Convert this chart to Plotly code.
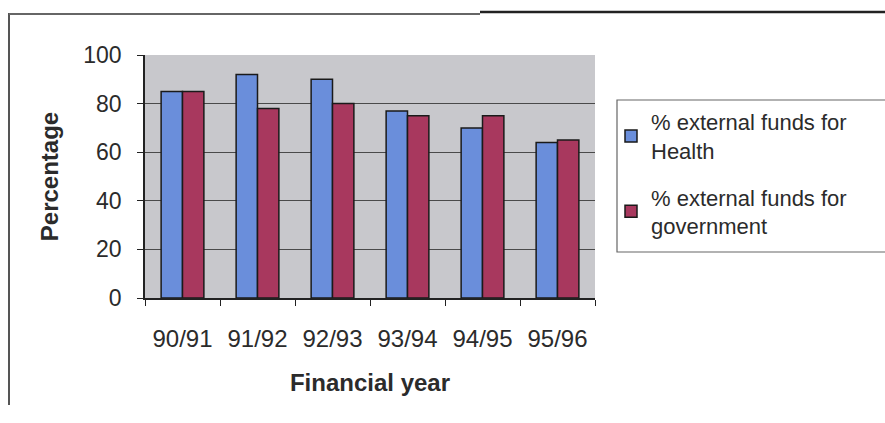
import plotly.graph_objects as go

# Financial years and shares of external funding (%)
years = ["90/91", "91/92", "92/93", "93/94", "94/95", "95/96"]
health_pct = [85, 92, 90, 77, 70, 64]
government_pct = [85, 78, 80, 75, 75, 65]

W, H = 885, 423
L, R, T, B = 145, 290, 55, 125
plot_w = W - L - R
plot_h = H - T - B

FONT = "Liberation Sans, Arial, sans-serif"
TXT = "#2b2b2b"


def px_x(px):
    return (px - L) / plot_w


def px_y(py):
    return (H - B - py) / plot_h


fig = go.Figure()
fig.add_trace(go.Bar(
    x=years, y=health_pct, name="% external funds for<br>Health",
    legendgroup="health",
    marker=dict(color="#6A8EDB", line=dict(color="#1a1a1a", width=1.5)),
))
fig.add_trace(go.Bar(
    x=years, y=government_pct, name="% external funds for<br>government",
    legendgroup="government",
    marker=dict(color="#A8385E", line=dict(color="#1a1a1a", width=1.5)),
))

fig.update_layout(
    width=W, height=H,
    margin=dict(l=L, r=R, t=T, b=B, pad=0),
    paper_bgcolor="white",
    plot_bgcolor="#C8C8CC",
    barmode="group",
    bargap=0.43,
    bargroupgap=0,
    font=dict(family=FONT, color=TXT, size=22),
    showlegend=True,
    legend=dict(
        x=px_x(611), y=px_y(101), xanchor="left", yanchor="top",
        bgcolor="rgba(0,0,0,0)", borderwidth=0,
        font=dict(family=FONT, size=22, color=TXT),
        tracegroupgap=15,
    ),
    xaxis=dict(
        showline=True, linecolor="#222", linewidth=1.5,
        ticks="outside", tickson="boundaries", ticklen=6, tickcolor="#222",
        ticklabelstandoff=18,
        tickfont=dict(size=24, family=FONT, color=TXT),
        title=dict(text="<b>Financial year</b>", font=dict(size=24, family=FONT, color=TXT), standoff=24),
        showgrid=False, mirror=False,
    ),
    yaxis=dict(
        range=[0, 100], dtick=20,
        showline=True, linecolor="#222", linewidth=1.5,
        ticks="outside", ticklen=6, tickcolor="#222",
        ticklabelstandoff=11,
        tickfont=dict(size=23, family=FONT, color=TXT),
        showgrid=True, gridcolor="#4a4a4a", gridwidth=1,
        zeroline=False,
        title=dict(text="<b>Percentage</b>", font=dict(size=24, family=FONT, color=TXT), standoff=18),
    ),
)

# Frame around the whole figure panel (top and left edges) and the legend box
fig.add_shape(type="line", xref="paper", yref="paper",
              x0=px_x(9), x1=px_x(9), y0=px_y(13), y1=px_y(405),
              line=dict(color="#555", width=2))
fig.add_shape(type="line", xref="paper", yref="paper",
              x0=px_x(9), x1=px_x(480), y0=px_y(14), y1=px_y(14),
              line=dict(color="#666", width=2))
fig.add_shape(type="line", xref="paper", yref="paper",
              x0=px_x(480), x1=px_x(890), y0=px_y(12), y1=px_y(12),
              line=dict(color="#222", width=2.5))
fig.add_shape(type="rect", xref="paper", yref="paper",
              x0=px_x(617), x1=px_x(892), y0=px_y(100), y1=px_y(252),
              line=dict(color="#666", width=1.2), fillcolor="rgba(0,0,0,0)")

fig.write_html("out.html")
